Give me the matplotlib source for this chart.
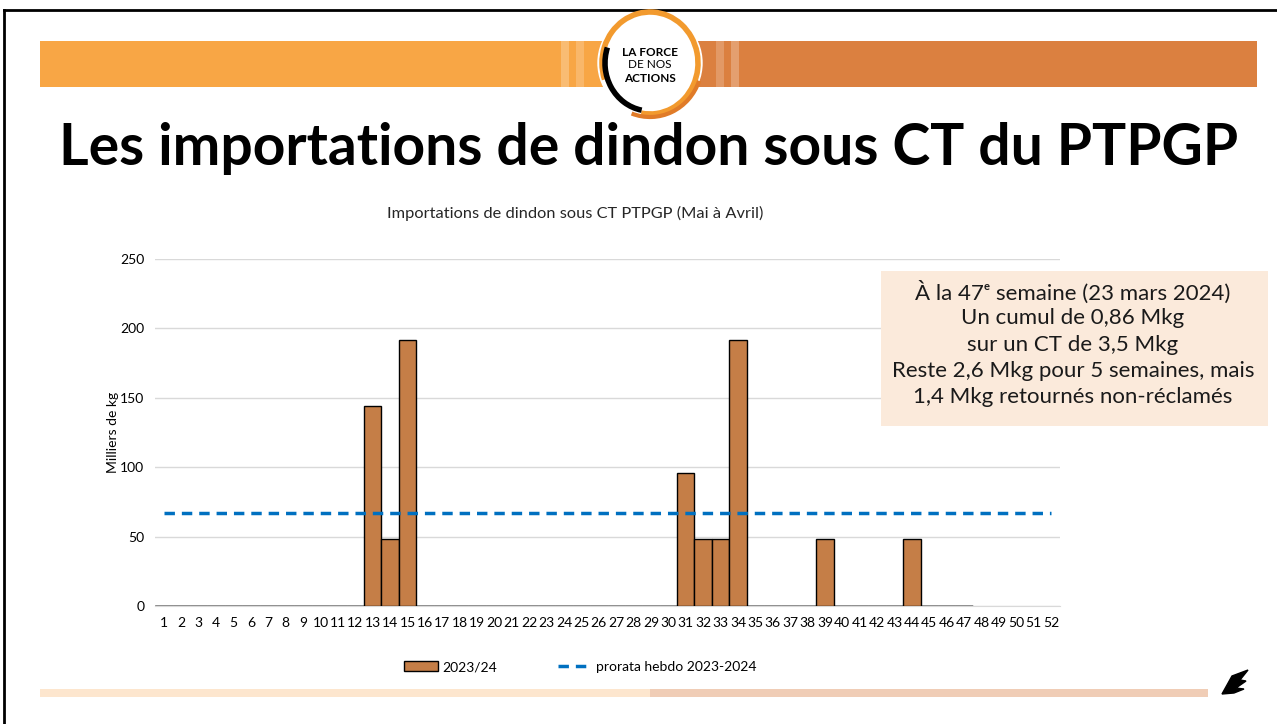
import numpy as np
import matplotlib.pyplot as plt
from matplotlib.patches import Rectangle, Circle, Arc, Polygon
from matplotlib.lines import Line2D

plt.rcParams['font.family'] = ['Lato', 'DejaVu Sans']

# donnees
semaines = list(range(1, 53))
importations = [0, 0, 0, 0, 0, 0, 0, 0, 0, 0, 0, 0, 144, 48, 192, 0, 0, 0, 0, 0,
                0, 0, 0, 0, 0, 0, 0, 0, 0, 0, 96, 48, 48, 192, 0, 0, 0, 0, 48, 0,
                0, 0, 0, 48, 0, 0, 0]  # semaines 1 a 47
prorata = 3500 / 52  # CT de 3,5 Mkg sur 52 semaines
titre = "Les importations de dindon sous CT du PTPGP"
titre_graph = "Importations de dindon sous CT PTPGP (Mai à Avril)"
note = ["À la 47\u1d49 semaine (23 mars 2024)",
        "Un cumul de 0,86 Mkg",
        "sur un CT de 3,5 Mkg",
        "Reste 2,6 Mkg pour 5 semaines, mais",
        "1,4 Mkg retournés non-réclamés"]

W, H = 1277, 724
fig = plt.figure(figsize=(W / 100, H / 100), dpi=100)

# fond de la diapo (coordonnees en pixels)
bg = fig.add_axes([0, 0, 1, 1])
bg.set_xlim(0, W)
bg.set_ylim(H, 0)
bg.axis('off')

bg.plot([4, 4], [10, H], color='black', lw=2)
bg.plot([4, W], [10, 10], color='black', lw=2)

# bande orange du haut
bg.add_patch(Rectangle((40, 41), 610, 46, color='#F8A645', lw=0))
bg.add_patch(Rectangle((650, 41), 607, 46, color='#DB8040', lw=0))
for dx, a in [(-85, 0.25), (-70, 0.2), (70, 0.2), (85, 0.25)]:
    bg.add_patch(Rectangle((650 + dx - 4, 41), 8, 46, color='white', alpha=a, lw=0))

# logo
bg.add_patch(Circle((650, 63), 52, color='white', zorder=3))
bg.add_patch(Arc((650, 63), 96, 102, theta1=-200, theta2=100, color='#F29A2E', lw=4, zorder=4))
bg.add_patch(Arc((650, 63), 90, 96, theta1=100, theta2=200, color='black', lw=4, zorder=4))
bg.add_patch(Arc((650, 63), 104, 108, theta1=20, theta2=110, color='#E07B28', lw=3, zorder=4))
bg.text(650, 52, "LA FORCE", ha='center', va='center', fontsize=8.5, fontweight='bold', zorder=5)
bg.text(650, 65, "DE NOS", ha='center', va='center', fontsize=8.5, zorder=5)
bg.text(650, 78, "ACTIONS", ha='center', va='center', fontsize=8.5, fontweight='bold', zorder=5)

# titre
bg.text(649, 165, titre, ha='center', va='baseline', fontsize=41, fontweight='bold')

# barre du bas
bg.add_patch(Rectangle((40, 689), 610, 8, color='#FDE6CE', lw=0))
bg.add_patch(Rectangle((650, 689), 558, 8, color='#F0CDB6', lw=0))
bg.add_patch(Polygon([[1222, 694], [1232, 676], [1248, 670], [1240, 680], [1246, 681],
                      [1236, 688], [1244, 689], [1234, 693]], closed=True, color='black'))

# graphique
ax = fig.add_axes([155.3 / W, 1 - 606 / H, 904.4 / W, 347 / H])
ax.bar(semaines[:len(importations)], importations, width=1, color='#C57E47',
       edgecolor='black', linewidth=1, zorder=3)
ax.bar(semaines[:len(importations)], [0] * len(importations), width=1,
       edgecolor='#A6A6A6', linewidth=1.2, zorder=2)
ax.plot([semaines[0], semaines[-1]], [prorata, prorata], color='#0070C0', lw=2.5,
        ls=(0, (3, 2)), zorder=4)

ax.set_xlim(0.5, 52.5)
ax.set_ylim(0, 250)
ax.set_yticks(range(0, 251, 50))
ax.set_xticks(semaines)
ax.set_xticklabels([str(s) for s in semaines], fontsize=10)
ax.tick_params(axis='y', labelsize=10, length=0, pad=8)
ax.tick_params(axis='x', length=0, pad=8)
ax.grid(axis='y', color='#D9D9D9', lw=1)
ax.set_axisbelow(True)
for s in ['top', 'right', 'left']:
    ax.spines[s].set_visible(False)
ax.spines['bottom'].set_color('#D9D9D9')
ax.set_ylabel("Milliers de kg", fontsize=10, labelpad=1)

bg.text(575, 213, titre_graph, ha='center', va='center', fontsize=11.8, color='#262626')

# encadre (par-dessus le graphique)
top = fig.add_axes([0, 0, 1, 1])
top.set_xlim(0, W)
top.set_ylim(H, 0)
top.axis('off')
top.add_patch(Rectangle((881, 271), 387, 155, color='#FBEADB', lw=0))
for i, ligne in enumerate(note):
    top.text(1073, 292 + i * 26.3, ligne, ha='center', va='center', fontsize=16,
             color='#1a1a1a')

# legende
handles = [Rectangle((0, 0), 1, 1, facecolor='#C57E47', edgecolor='black', lw=1),
           Line2D([0], [0], color='#0070C0', lw=2.5, ls=(0, (3, 2)))]
fig.legend(handles, ["2023/24", "prorata hebdo 2023-2024"], loc='center',
           bbox_to_anchor=(580 / W, 1 - 667 / H), ncol=2, frameon=False,
           fontsize=10, handlelength=2.45, handleheight=0.7, handletextpad=0.3,
           columnspacing=4.4)

fig.savefig('out.png', dpi=100)
